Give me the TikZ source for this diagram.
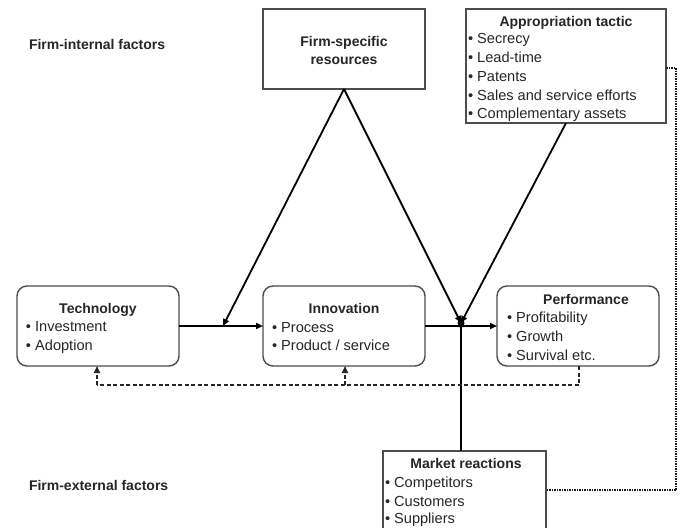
\documentclass[tikz,border=0pt]{standalone}
\usepackage{fontspec}
\setmainfont{Liberation Sans}
\usetikzlibrary{arrows.meta}
\begin{document}
\begin{tikzpicture}[x=1pt,y=-1pt,
  every node/.style={inner sep=0pt, outer sep=0pt},
  txt/.style={font=\fontsize{14.6}{19}\selectfont, text=black!85, anchor=base west},
  ttl/.style={font=\fontsize{14}{19}\selectfont\bfseries, text=black!85, anchor=base},
  sqbox/.style={draw=black!70, line width=1.4pt, minimum width=#1},
  rbox/.style={draw=black!70, line width=1.4pt, rounded corners=10pt, minimum width=162pt, minimum height=80pt},
  conn/.style={draw=black, line width=1.8pt},
  tip/.style={-{Triangle[length=7pt,width=6pt]}},
  fb/.style={draw=black!85, line width=1.6pt, dash pattern=on 4pt off 2.5pt},
  dots/.style={draw=black!90, line width=2pt, dash pattern=on 1.5pt off 1pt}]
\useasboundingbox (0,0) rectangle (681,528);
\clip (0,0) rectangle (681,528);

% side labels
\node[ttl, anchor=base west] (intl) at (29,49) {Firm-internal factors};
\node[ttl, anchor=base west] (extl) at (29,490) {Firm-external factors};

% firm-specific resources
\node[sqbox=162pt, minimum height=80pt] (fs) at (344,49) {};
\node[ttl] (fs-t1) at (344,46) {Firm-specific};
\node[ttl] (fs-t2) at (344,64) {resources};

% appropriation tactic
\node[sqbox=200pt, minimum height=114pt] (ap) at (566,66) {};
\node[ttl] (ap-t) at (566,26) {Appropriation tactic};
\node[txt] (ap-1) at (468,43) {• Secrecy};
\node[txt] (ap-2) at (468,62) {• Lead-time};
\node[txt] (ap-3) at (468,81) {• Patents};
\node[txt] (ap-4) at (468,100) {• Sales and service efforts};
\node[txt] (ap-5) at (468,118) {• Complementary assets};

% technology
\node[rbox] (tech) at (98,326) {};
\node[ttl] (tech-t) at (98,313) {Technology};
\node[txt] (tech-1) at (26,331) {• Investment};
\node[txt] (tech-2) at (26,350) {• Adoption};

% innovation
\node[rbox] (inno) at (344,326) {};
\node[ttl] (inno-t) at (344,313) {Innovation};
\node[txt] (inno-1) at (272,332) {• Process};
\node[txt] (inno-2) at (272,350) {• Product / service};

% performance
\node[rbox] (perf) at (578,326) {};
\node[ttl] (perf-t) at (586,304) {Performance};
\node[txt] (perf-1) at (507,322) {• Profitability};
\node[txt] (perf-2) at (507,341) {• Growth};
\node[txt] (perf-3) at (507,360) {• Survival etc.};

% market reactions
\node[sqbox=163pt, minimum height=90pt] (mr) at (464.5,496) {};
\node[ttl] (mr-t) at (466,468) {Market reactions};
\node[txt] (mr-1) at (385,487) {• Competitors};
\node[txt] (mr-2) at (385,506) {• Customers};
\node[txt] (mr-3) at (385,523) {• Suppliers};

% junctions
\coordinate (jL) at (223,326);
\node[circle, fill=black, minimum size=7pt] (jR) at (461,323) {};

% solid connectors
\draw[conn, tip] (tech.east |- jL) -- (inno.west |- jL);
\draw[conn, tip] (inno.east) -- (perf.west);
\draw[conn, tip] (fs.south) -- (jL);
\draw[conn, tip] (fs.south) -- (jR.center);
\draw[conn, tip] (ap.south) -- (jR.center);
\draw[conn, tip] (mr.north -| jR) -- ([yshift=3pt]jR.center);

% feedback (dashed)
\coordinate (fbP) at (579,385);
\coordinate (fbT) at (97,385);
\coordinate (fbI) at (345,385);
\draw[fb] (perf.south -| fbP) -- (fbP) -- (fbT);
\draw[fb, tip] (fbT) -- (tech.south -| fbT);
\draw[fb, tip] (fbI) -- (inno.south -| fbI);

% dotted link appropriation - market
\coordinate (dA) at (676,68);
\coordinate (dB) at (676,490);
\draw[dots] (ap.east |- dA) -- (dA) -- (dB) -- (mr.east |- dB);
\end{tikzpicture}
\end{document}
